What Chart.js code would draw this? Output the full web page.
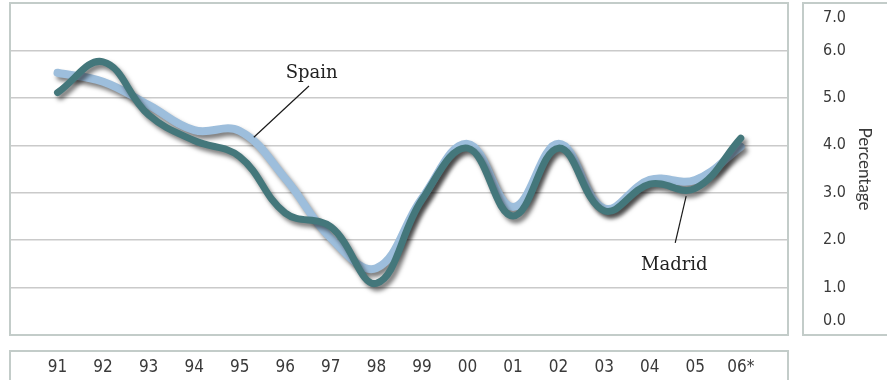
<!DOCTYPE html>
<html>
<head>
<meta charset="utf-8">
<script src="https://cdn.jsdelivr.net/npm/chart.js@4.4.1/dist/chart.umd.min.js"></script>
<style>
  html, body { margin: 0; padding: 0; background: #ffffff; }
  #wrap { width: 887px; height: 380px; position: relative; }
</style>
</head>
<body>
<div id="wrap"><canvas id="chart"></canvas></div>
<script>
// Annual growth, percent
const years  = ['91', '92', '93', '94', '95', '96', '97', '98', '99', '00', '01', '02', '03', '04', '05', '06*'];
const madrid = [5.11, 5.76, 4.64, 4.10, 3.76, 2.57, 2.28, 1.09, 2.85, 3.94, 2.51, 3.94, 2.62, 3.18, 3.09, 4.15];
const spain  = [5.53, 5.34, 4.85, 4.32, 4.30, 3.30, 2.04, 1.41, 2.88, 4.03, 2.70, 4.03, 2.67, 3.27, 3.27, 3.97];
const yTicks = [0, 1, 2, 3, 4, 5, 6, 7];

const BOX = '#c3ccc9';
const TEXT = '#3a3a3a';

// drop shadow under each line
const lineShadow = {
  id: 'lineShadow',
  beforeDatasetDraw(chart) {
    const c = chart.ctx;
    c.save();
    c.shadowColor = 'rgba(0,0,0,0.5)';
    c.shadowBlur = 4;
    c.shadowOffsetX = 3;
    c.shadowOffsetY = 4;
  },
  afterDatasetDraw(chart) { chart.ctx.restore(); }
};

// keep the end labels of the value axis inside their frame
const innerEndLabels = {
  id: 'innerEndLabels',
  beforeDraw(chart) {
    const s = chart.scales.y;
    const items = s.getLabelItems();
    if (!items || items._shifted || items.length < 2) return;
    items[0].options.translation[1] -= 14;
    items[items.length - 1].options.translation[1] += 14.5;
    items._shifted = true;
  }
};

// frames around plot, value axis and category axis
const frames = {
  id: 'frames',
  beforeDatasetsDraw(chart) {
    const { ctx, chartArea: a, width, height } = chart;
    ctx.save();
    ctx.strokeStyle = BOX;
    ctx.lineWidth = 2;
    ctx.strokeRect(a.left, a.top, a.right - a.left, a.bottom - a.top);
    ctx.strokeRect(a.right + 15, a.top, width - a.right, a.bottom - a.top);
    ctx.strokeRect(a.left, a.bottom + 16, a.right - a.left, height);
    ctx.restore();
  }
};

// series names with leader lines, placed in data space
const callouts = {
  id: 'callouts',
  afterDatasetsDraw(chart) {
    const { ctx, scales: { x, y } } = chart;
    const notes = [
      { text: 'Spain',  from: [4.31, 4.17], to: [5.52, 5.25], at: [5.58, 5.42] },
      { text: 'Madrid', from: [13.80, 2.93], to: [13.56, 1.94], at: [13.54, 1.37] }
    ];
    ctx.save();
    ctx.strokeStyle = '#1a1a1a';
    ctx.lineWidth = 1.2;
    ctx.fillStyle = '#222222';
    ctx.font = '18px "DejaVu Serif", serif';
    ctx.textAlign = 'center';
    ctx.textBaseline = 'alphabetic';
    notes.forEach(n => {
      ctx.beginPath();
      ctx.moveTo(x.getPixelForValue(n.from[0]), y.getPixelForValue(n.from[1]));
      ctx.lineTo(x.getPixelForValue(n.to[0]), y.getPixelForValue(n.to[1]));
      ctx.stroke();
      ctx.fillText(n.text, x.getPixelForValue(n.at[0]), y.getPixelForValue(n.at[1]));
    });
    ctx.restore();
  }
};

const toPoints = vals => vals.map((v, i) => ({ x: i, y: v }));

new Chart(document.getElementById('chart'), {
  type: 'line',
  data: {
    datasets: [
      {
        label: 'Madrid',
        data: toPoints(madrid),
        borderColor: '#44777b',
        borderWidth: 7,
        tension: 0.4,
        pointRadius: 0,
        borderCapStyle: 'round',
        borderJoinStyle: 'round',
        fill: false
      },
      {
        label: 'Spain',
        data: toPoints(spain),
        borderColor: '#9dbedc',
        borderWidth: 8,
        tension: 0.4,
        pointRadius: 0,
        borderCapStyle: 'round',
        borderJoinStyle: 'round',
        fill: false
      }
    ]
  },
  options: {
    responsive: true,
    maintainAspectRatio: false,
    animation: false,
    layout: { padding: { top: 3, left: 10, right: 0, bottom: 0 } },
    plugins: {
      legend: { display: false },
      tooltip: { enabled: false }
    },
    scales: {
      x: {
        type: 'linear',
        min: -1.043,
        max: 16.036,
        grid: { display: false, drawTicks: false },
        border: { display: false },
        afterBuildTicks: s => { s.ticks = years.map((_, i) => ({ value: i })); },
        afterFit: s => { s.height = 45; s.paddingLeft = 0; s.paddingRight = 0; },
        ticks: {
          autoSkip: false,
          maxRotation: 0,
          padding: 22,
          color: TEXT,
          font: { family: '"Liberation Sans Narrow", "DejaVu Sans Condensed", Lato, sans-serif', size: 17 },
          callback: v => years[v] ?? ''
        }
      },
      y: {
        position: 'right',
        min: 0,
        max: 7,
        afterBuildTicks: s => { s.ticks = yTicks.map(v => ({ value: v })); },
        afterFit: s => { s.width = 99; s.paddingTop = 0; s.paddingBottom = 0; },
        grid: { color: '#cacaca', lineWidth: 1.5, drawTicks: false },
        border: { display: false },
        ticks: {
          padding: 35,
          color: TEXT,
          font: { family: '"Liberation Sans Narrow", "DejaVu Sans Condensed", Lato, sans-serif', size: 16 },
          callback: v => Number(v).toFixed(1)
        },
        title: {
          display: true,
          text: 'Percentage',
          color: TEXT,
          padding: { top: 12, bottom: 0 },
          font: { family: 'Lato, "DejaVu Sans", sans-serif', size: 17 }
        }
      }
    }
  },
  plugins: [lineShadow, innerEndLabels, frames, callouts]
});
</script>
</body>
</html>
